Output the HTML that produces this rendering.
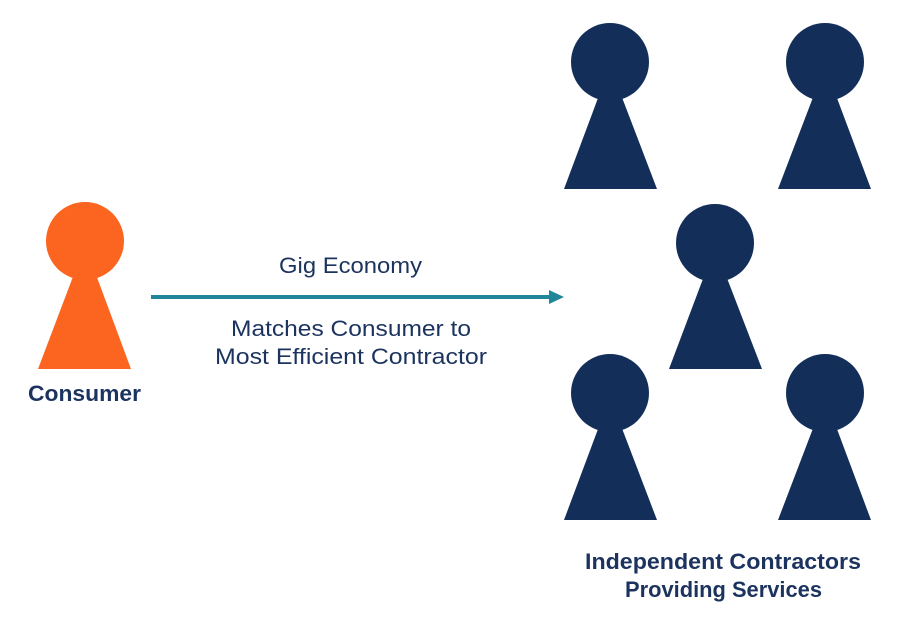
<!DOCTYPE html>
<html><head><meta charset="utf-8"><style>
html,body{margin:0;padding:0;background:#fff;}
svg{display:block;}
text{font-family:"Liberation Sans",sans-serif;fill:#1b335e;}
</style></head><body>
<svg width="903" height="622" viewBox="0 0 903 622" xmlns="http://www.w3.org/2000/svg">
<g fill="#fb6520">
<polygon points="85,245 38,369 131,369"/>
<circle cx="85" cy="241" r="39"/>
</g>
<g fill="#132f59">
<polygon points="610,66 564,189 657,189"/><circle cx="610" cy="62" r="39"/>
<polygon points="825,66 778,189 871,189"/><circle cx="825" cy="62" r="39"/>
<polygon points="715,247 669,369 762,369"/><circle cx="715" cy="243" r="39"/>
<polygon points="610,397 564,520 657,520"/><circle cx="610" cy="393" r="39"/>
<polygon points="825,397 778,520 871,520"/><circle cx="825" cy="393" r="39"/>
</g>
<line x1="151" y1="297" x2="551" y2="297" stroke="#21869a" stroke-width="4"/>
<polygon points="549,290 564,297 549,304" fill="#21869a"/>
<text x="279" y="273" font-size="22" textLength="143" lengthAdjust="spacingAndGlyphs">Gig Economy</text>
<text x="231" y="336" font-size="22" textLength="240" lengthAdjust="spacingAndGlyphs">Matches Consumer to</text>
<text x="215" y="364" font-size="22" textLength="272" lengthAdjust="spacingAndGlyphs">Most Efficient Contractor</text>
<text x="28" y="401" font-size="22" font-weight="bold" textLength="113" lengthAdjust="spacingAndGlyphs">Consumer</text>
<text x="585" y="569" font-size="22" font-weight="bold" textLength="276" lengthAdjust="spacingAndGlyphs">Independent Contractors</text>
<text x="625" y="597" font-size="22" font-weight="bold" textLength="197" lengthAdjust="spacingAndGlyphs">Providing Services</text>
</svg>
</body></html>
